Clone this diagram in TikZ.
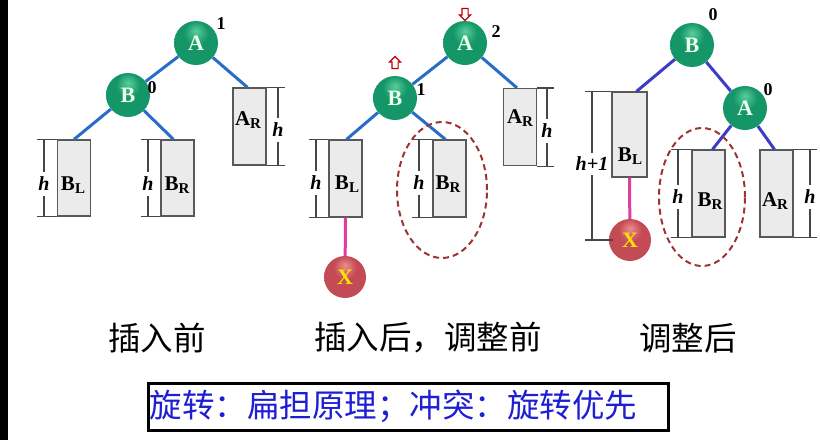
\documentclass[tikz,border=0pt]{standalone}
\usepackage{fontspec}
\setmainfont{Liberation Serif}
\newfontfamily\cjk{Noto Sans CJK SC}
\usetikzlibrary{shapes.arrows,shapes.geometric}
\definecolor{edgeblue}{RGB}{40,110,200}
\definecolor{edgeviolet}{RGB}{60,60,200}
\definecolor{greenlight}{RGB}{90,205,155}
\definecolor{ballgreen}{RGB}{20,150,105}
\definecolor{balldark}{RGB}{5,85,60}
\definecolor{redlight}{RGB}{235,140,140}
\definecolor{ballred}{RGB}{195,75,85}
\definecolor{reddark}{RGB}{115,35,45}
\definecolor{ringred}{RGB}{160,50,50}
\definecolor{linkpink}{RGB}{225,60,160}
\definecolor{noteblue}{RGB}{30,30,210}
\pgfdeclareradialshading{greenball}{\pgfpoint{0bp}{14bp}}{color(0bp)=(greenlight); color(14bp)=(ballgreen); color(36bp)=(ballgreen); color(58bp)=(balldark); color(70bp)=(balldark)}
\pgfdeclareradialshading{redball}{\pgfpoint{0bp}{14bp}}{color(0bp)=(redlight); color(14bp)=(ballred); color(36bp)=(ballred); color(58bp)=(reddark); color(70bp)=(reddark)}
\newcommand\tsub[1]{\raisebox{-0.35ex}{\fontsize{15}{15}\selectfont #1}}

\begin{document}
\begin{tikzpicture}[x=1pt,y=-1pt,
    knot/.style={circle, shading=greenball, minimum size=44pt, inner sep=0pt,
      text=green!8, font=\fontsize{22}{22}\selectfont\bfseries},
    newknot/.style={knot, shading=redball, text=yellow!85!orange, minimum size=42pt},
    bal/.style={font=\fontsize{18}{18}\selectfont\bfseries, inner sep=0pt},
    subtree/.style={draw=gray!70!black, fill=gray!16, line width=1.2pt, minimum width=33pt, inner sep=0pt},
    tname/.style={font=\fontsize{21}{21}\selectfont\bfseries, inner sep=0pt},
    hgt/.style={font=\fontsize{20}{20}\selectfont\bfseries\itshape, inner sep=5pt},
    dim/.style={draw=gray!55!black, line width=1.2pt},
    link/.style={edgeblue, line width=3pt},
    vlink/.style={edgeviolet, line width=3pt},
    plink/.style={linkpink, line width=3pt},
    ring/.style={ellipse, draw=ringred, line width=2pt, dash pattern=on 6pt off 4pt},
    flag/.style={single arrow, draw=red!75!black, fill=white, line width=1.2pt,
      minimum height=12pt, minimum width=11pt, inner sep=2.5pt, single arrow head extend=2.5pt},
    caption/.style={font=\cjk\fontsize{32.5}{32.5}\selectfont},
    notebox/.style={draw=black, line width=3pt, minimum width=520pt, minimum height=47pt},
    notetext/.style={font=\cjk\fontsize{32.5}{32.5}\selectfont, text=noteblue, inner sep=0pt}]
    \useasboundingbox (0,0) rectangle (820,440);
    \fill[black] (0,0) rectangle (8,440);

    \node[subtree, minimum height=77pt] (AR1) at (249.5,126.5) {};
    \node[subtree, minimum height=76pt] (BL1) at (74,178) {};
    \node[subtree, minimum height=76pt] (BR1) at (177.5,178) {};
    \node[subtree, minimum height=77pt] (AR2) at (520,127) {};
    \node[subtree, minimum height=77pt] (BL2) at (345.5,178.5) {};
    \node[subtree, minimum height=77pt] (BR2) at (449.5,178.5) {};
    \node[subtree, minimum height=85pt, minimum width=35pt] (BL3) at (629.5,134.5) {};
    \node[subtree, minimum height=87pt] (BR3) at (708.5,193.5) {};
    \node[subtree, minimum height=87pt] (AR3) at (776.5,193.5) {};

    \node[tname] (tAR1) at (248,120) {A\tsub{R}};
    \node[tname] (tBL1) at (73,185) {B\tsub{L}};
    \node[tname] (tBR1) at (177,185) {B\tsub{R}};
    \node[tname] (tAR2) at (520,118) {A\tsub{R}};
    \node[tname] (tBL2) at (347,184) {B\tsub{L}};
    \node[tname] (tBR2) at (448,184) {B\tsub{R}};
    \node[tname] (tBL3) at (630,156) {B\tsub{L}};
    \node[tname] (tBR3) at (710,201) {B\tsub{R}};
    \node[tname] (tAR3) at (775,201) {A\tsub{R}};

    \node[knot] (A1) at (196,43) {A};
    \node[knot] (B1) at (128,95) {B};
    \node[knot] (A2) at (465,43) {A};
    \node[knot] (B2) at (395,98) {B};
    \node[newknot] (X2) at (345,277) {X};
    \node[knot] (B3) at (692,45) {B};
    \node[knot] (A3) at (745,108) {A};
    \node[newknot] (X3) at (630,240) {X};

    \node[bal] (nA1) at (221,24) {1};
    \node[bal] (nB1) at (152,88) {0};
    \node[bal] (nA2) at (496,32) {2};
    \node[bal] (nB2) at (421,90) {1};
    \node[bal] (nB3) at (713,15) {0};
    \node[bal] (nA3) at (768,90) {0};

    \node[flag, shape border rotate=270] (downA2) at (465,13) {};
    \node[flag, shape border rotate=90] (upB2) at (395,64) {};

    \draw[link] (A1) -- (B1);
    \draw[link] (A1) -- ([xshift=-2pt]AR1.north);
    \draw[link] (B1) -- (BL1.north);
    \draw[link] (B1) -- ([xshift=-4pt]BR1.north);
    \draw[link] (A2) -- (B2);
    \draw[link] (A2) -- ([xshift=-3pt]AR2.north);
    \draw[link] (B2) -- ([xshift=1pt]BL2.north);
    \draw[link] (B2) -- ([xshift=-4pt]BR2.north);
    \draw[vlink] (B3) -- ([xshift=7pt]BL3.north);
    \draw[vlink] (B3) -- (A3);
    \draw[vlink] (A3) -- ([xshift=4pt]BR3.north);
    \draw[vlink] (A3) -- ([xshift=-2pt]AR3.north);
    \draw[plink] (BL2.south) -- (X2);
    \draw[plink] (BL3.south) -- (X3);

    \node[hgt] (hBL1) at (44,184) {h};
    \node[hgt] (hBR1) at (148,184) {h};
    \node[hgt] (hAR1) at (278,130) {h};
    \node[hgt] (hBL2) at (316,183) {h};
    \node[hgt] (hBR2) at (419,183) {h};
    \node[hgt] (hAR2) at (547,131) {h};
    \node[hgt] (hBR3) at (678,197) {h};
    \node[hgt] (hAR3) at (810,197) {h};
    \node[hgt, inner sep=4pt] (hBL3) at (592,164) {h+1};

    \foreach \h/\b/\s/\d in {hBL1/BL1/west/-7, hBR1/BR1/west/-7, hAR1/AR1/east/7,
                             hBL2/BL2/west/-7, hBR2/BR2/west/-7, hAR2/AR2/east/7,
                             hBR3/BR3/west/-7, hAR3/AR3/east/7} {
      \draw[dim] (\h.north) -- (\h.north |- \b.north);
      \draw[dim] (\h.south) -- (\h.south |- \b.south);
      \draw[dim] (\b.north \s) -- ([xshift=\d pt]\h.north |- \b.north);
      \draw[dim] (\b.south \s) -- ([xshift=\d pt]\h.south |- \b.south);
    }
    \draw[dim] (hBL3.north) -- (hBL3.north |- BL3.north);
    \draw[dim] (BL3.north west) -- ([xshift=-7pt]hBL3.north |- BL3.north);
    \draw[dim] (hBL3.south) -- (hBL3.south |- X3.west);
    \draw[dim] ([xshift=-7pt]hBL3.south |- X3.west) -- ([xshift=4pt]X3.west);

    \node[ring, minimum width=90pt, minimum height=136pt] (ring2) at (442,190) {};
    \node[ring, minimum width=86pt, minimum height=138pt] (ring3) at (702,197) {};

    \node[caption] (cap1) at (157,338) {插入前};
    \node[caption] (cap2) at (428,338) {插入后，调整前};
    \node[caption] (cap3) at (688,338) {调整后};

    \node[notebox] (note) at (408,406.5) {};
    \node[notetext, anchor=west] (notetxt) at ([xshift=3pt]note.west) {旋转：扁担原理；冲突：旋转优先};
\end{tikzpicture}
\end{document}
